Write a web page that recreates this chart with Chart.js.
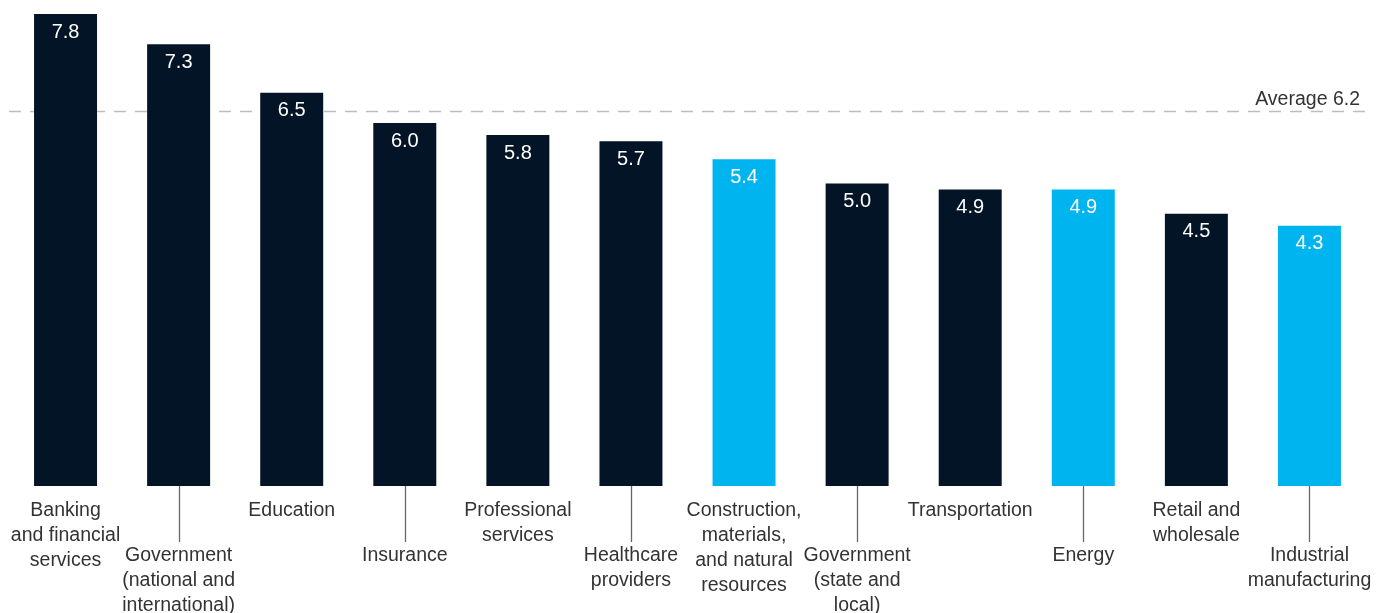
<!DOCTYPE html>
<html>
<head>
<meta charset="utf-8">
<script src="https://cdn.jsdelivr.net/npm/chart.js@4/dist/chart.umd.min.js"></script>
<style>
  html, body { margin: 0; padding: 0; background: #fff; }
  #wrap { width: 1389px; height: 613px; position: relative; }
</style>
</head>
<body>
<div id="wrap"><canvas id="chart"></canvas></div>
<script>
// Sector scores
const sectors = [
  ["Banking", "and financial", "services"],
  ["Government", "(national and", "international)"],
  ["Education"],
  ["Insurance"],
  ["Professional", "services"],
  ["Healthcare", "providers"],
  ["Construction,", "materials,", "and natural", "resources"],
  ["Government", "(state and", "local)"],
  ["Transportation"],
  ["Energy"],
  ["Retail and", "wholesale"],
  ["Industrial", "manufacturing"]
];
const scores = [7.8, 7.3, 6.5, 6.0, 5.8, 5.7, 5.4, 5.0, 4.9, 4.9, 4.5, 4.3];
const highlighted = [false, false, false, false, false, false, true, false, false, true, false, true];
const average = 6.2;

const NAVY = "#021426";
const CYAN = "#00b5ef";
const FONT = "'Liberation Sans', Arial, sans-serif";

// dashed average line + caption, drawn under the bars
const averageLine = {
  id: "averageLine",
  beforeDatasetsDraw(chart) {
    const { ctx, chartArea, scales } = chart;
    const y = Math.round(scales.y.getPixelForValue(average)) + 0.5;
    ctx.save();
    ctx.strokeStyle = "#bdbdbd";
    ctx.lineWidth = 1.3;
    ctx.setLineDash([12, 9]);
    ctx.beginPath();
    ctx.moveTo(chartArea.left, y);
    ctx.lineTo(chartArea.right, y);
    ctx.stroke();
    ctx.setLineDash([]);
    ctx.fillStyle = "#333";
    ctx.font = "19.5px " + FONT;
    ctx.textAlign = "right";
    ctx.textBaseline = "alphabetic";
    ctx.fillText("Average " + average.toFixed(1), chartArea.right - 6, y - 7);
    ctx.restore();
  }
};

// values inside bars and staggered category labels underneath
const barLabels = {
  id: "barLabels",
  afterDatasetsDraw(chart) {
    const { ctx, chartArea } = chart;
    const meta = chart.getDatasetMeta(0);
    ctx.save();
    ctx.textAlign = "center";
    ctx.textBaseline = "middle";
    meta.data.forEach((bar, i) => {
      ctx.fillStyle = "#fff";
      ctx.font = "20px " + FONT;
      ctx.fillText(scores[i].toFixed(1), bar.x, bar.y + 18);

      const low = i % 2 === 1;
      let top = chartArea.bottom + 25;
      if (low) {
        ctx.strokeStyle = "#666";
        ctx.lineWidth = 1.3;
        ctx.beginPath();
        ctx.moveTo(Math.round(bar.x) + 0.5, chartArea.bottom);
        ctx.lineTo(Math.round(bar.x) + 0.5, chartArea.bottom + 56);
        ctx.stroke();
        top = chartArea.bottom + 70;
      }
      ctx.fillStyle = "#333";
      ctx.font = "19.5px " + FONT;
      sectors[i].forEach((line, k) => {
        ctx.fillText(line, bar.x, top + k * 25);
      });
    });
    ctx.restore();
  }
};

new Chart(document.getElementById("chart"), {
  type: "bar",
  data: {
    labels: sectors.map((s) => s.join(" ")),
    datasets: [{
      data: scores,
      backgroundColor: highlighted.map((h) => (h ? CYAN : NAVY)),
      borderWidth: 0,
      barPercentage: 0.557,
      categoryPercentage: 1
    }]
  },
  options: {
    responsive: true,
    maintainAspectRatio: false,
    animation: false,
    layout: { padding: { left: 9, right: 23, top: 2, bottom: 127 } },
    plugins: { legend: { display: false }, tooltip: { enabled: false } },
    scales: {
      x: { display: false },
      y: { display: false, min: 0, max: 8 }
    }
  },
  plugins: [averageLine, barLabels]
});
</script>
</body>
</html>
